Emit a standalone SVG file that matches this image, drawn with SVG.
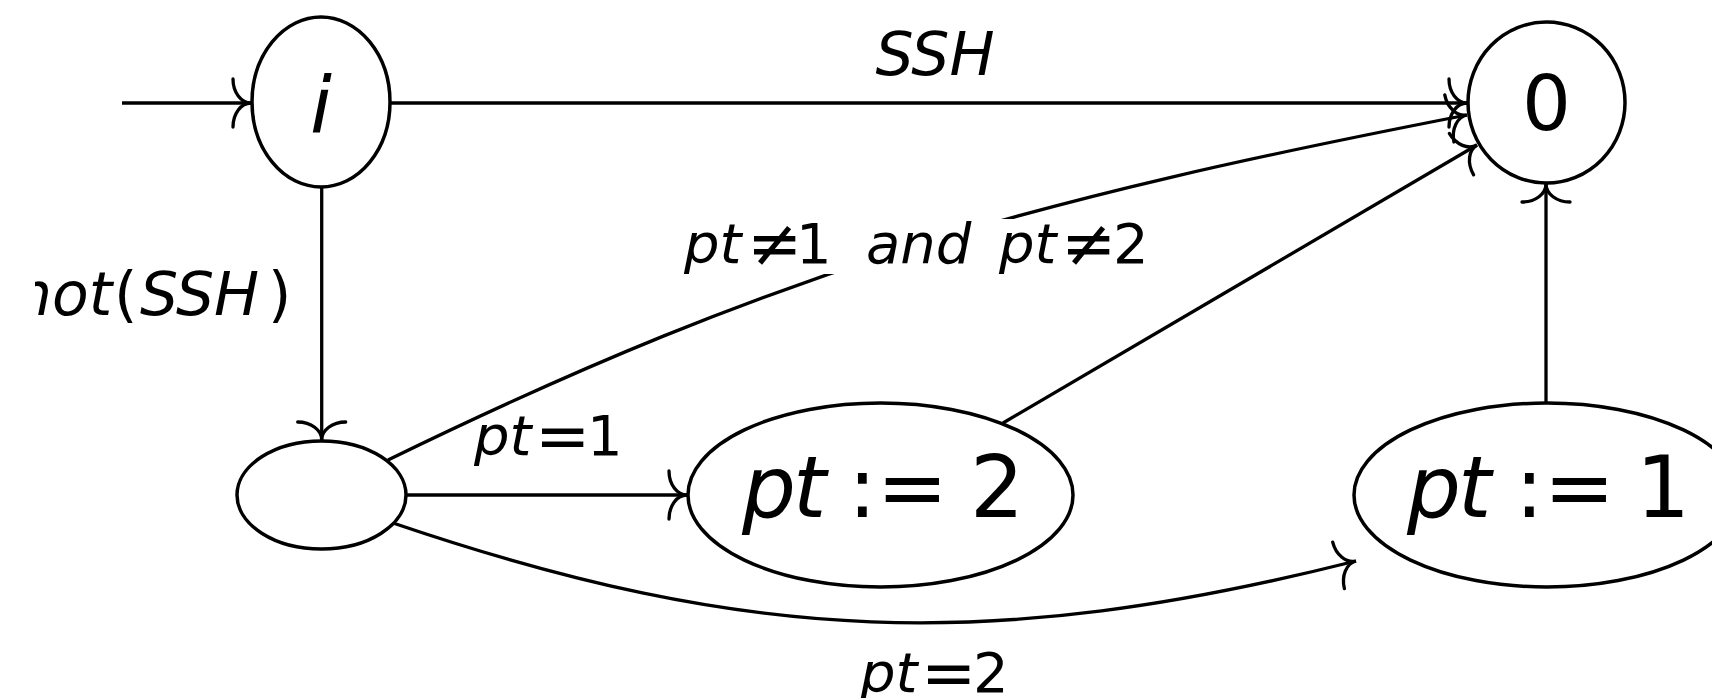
<svg xmlns="http://www.w3.org/2000/svg" width="1712" height="698" viewBox="0 0 1712 698">
<style>
.node{fill:none;stroke:#000;stroke-width:3.5}
.edge{fill:none;stroke:#000;stroke-width:3.3;marker-end:url(#arr)}
.t{font-family:"DejaVu Sans","Liberation Sans",sans-serif;fill:#000}
.it{font-style:oblique}
.up{font-style:normal}
.lbl{font-size:56px}
.rel{font-size:66px}
.big{font-size:85px}
</style>
<defs>
<marker id="arr" markerUnits="userSpaceOnUse" orient="auto" refX="0" refY="0" markerWidth="60" markerHeight="60" overflow="visible">
<path d="M-18,-24 A18 24 0 0 0 0,0 A18 24 0 0 0 -18,24" fill="none" stroke="#000" stroke-width="3.3" stroke-linecap="round"/>
</marker>
<clipPath id="edgeclip"><rect x="35" y="0" width="1677" height="698"/></clipPath>
</defs>
<rect x="0" y="0" width="1712" height="698" fill="#fff"/>

<g id="connectors">
<path class="edge" d="M122,103 L251,103"/>
<path class="edge" d="M390,103 L1467,103"/>
<path class="edge" d="M321.7,187 L321.7,440"/>
<path class="edge" d="M406,495 L687,495"/>
<path class="edge" d="M388,460 C786,266 1032,199.5 1467,115"/>
<path class="edge" d="M1003,423 L1477,145"/>
<path class="edge" d="M1546,403 L1546,184"/>
<path class="edge" d="M393,523 C749,644 991,653 1356,561"/>
</g>

<g id="edge-labels">
<text class="t it" x="935" y="75" font-size="60" text-anchor="middle">SSH</text>
<g clip-path="url(#edgeclip)">
<text class="t" y="315" font-size="60"><tspan class="it" x="14">not</tspan><tspan class="up" x="114">(</tspan><tspan class="it" x="140">SSH</tspan><tspan class="up" x="268">)</tspan></text>
</g>
<rect x="683" y="219" width="470" height="55" fill="#fff"/>
<text class="t lbl" y="263"><tspan class="it" x="684">pt</tspan><tspan class="up rel" x="747" y="266">≠</tspan><tspan class="up" x="796" y="263">1</tspan><tspan class="it" x="866">and</tspan><tspan class="it" x="999">pt</tspan><tspan class="up rel" x="1061" y="266">≠</tspan><tspan class="up" x="1113" y="263">2</tspan></text>
<text class="t lbl" y="455"><tspan class="it" x="474">pt</tspan><tspan class="up rel" x="535" y="458">=</tspan><tspan class="up" x="587" y="455">1</tspan></text>
<text class="t lbl" y="692"><tspan class="it" x="860">pt</tspan><tspan class="up rel" x="921" y="695">=</tspan><tspan class="up" x="973" y="692">2</tspan></text>
</g>

<g id="node-i">
<ellipse class="node" cx="321" cy="102" rx="69" ry="85"/>
<text class="t it" x="321" y="133" font-size="79" text-anchor="middle">i</text>
</g>
<g id="node-0">
<ellipse class="node" cx="1546.5" cy="102.5" rx="78.5" ry="80.5"/>
<text class="t up" x="1546.5" y="130" font-size="77" text-anchor="middle">0</text>
</g>
<g id="node-blank">
<ellipse class="node" cx="321.5" cy="495" rx="84.5" ry="54"/>
</g>
<g id="node-pt2">
<ellipse class="node" cx="880.5" cy="495" rx="192.5" ry="92"/>
<text class="t big" y="517"><tspan class="it" x="742" letter-spacing="-3">pt</tspan><tspan class="up" x="848">:=</tspan><tspan class="up" x="970">2</tspan></text>
</g>
<g id="node-pt1">
<ellipse class="node" cx="1547" cy="495" rx="193" ry="92"/>
<text class="t big" y="517"><tspan class="it" x="1407" letter-spacing="-3">pt</tspan><tspan class="up" x="1515">:=</tspan><tspan class="up" x="1636">1</tspan></text>
</g>
</svg>
